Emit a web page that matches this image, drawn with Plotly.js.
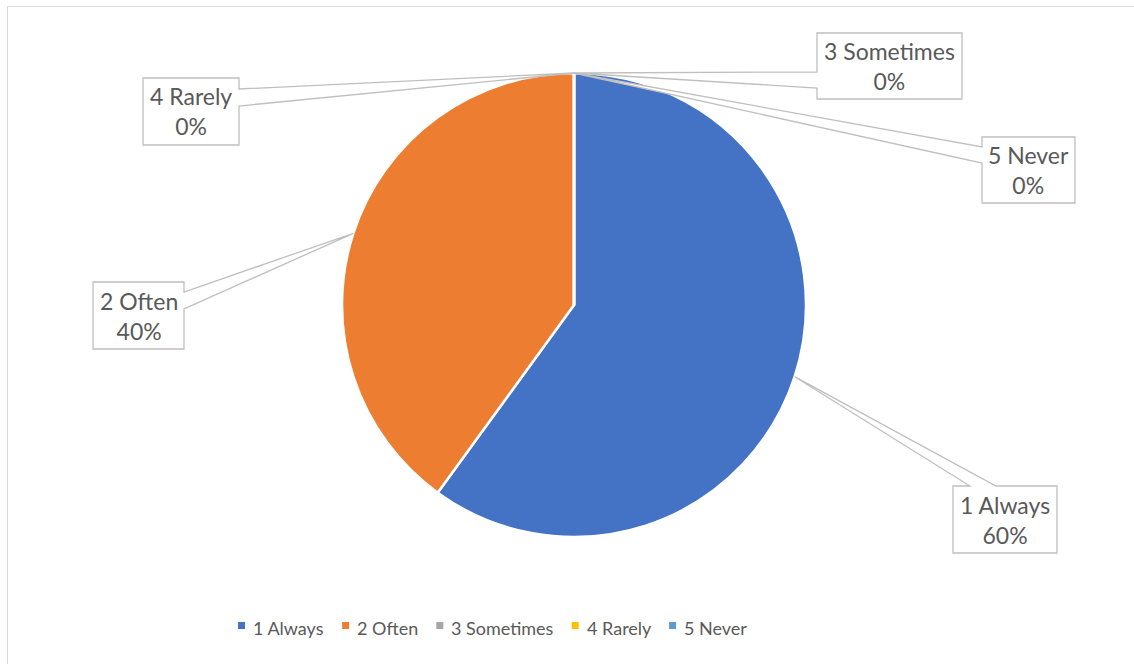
<!DOCTYPE html>
<html>
<head>
<meta charset="utf-8">
<script src="https://cdn.plot.ly/plotly-3.0.1.min.js"></script>
<style>html,body{margin:0;padding:0;background:#fff;}#chart{width:1134px;height:664px;}</style>
</head>
<body>
<div id="chart"></div>
<script>
// ---- data ----
const categories = ["1 Always", "2 Often", "3 Sometimes", "4 Rarely", "5 Never"];
const values = [60, 40, 0, 0, 0];
const colors = ["#4472C4", "#ED7D31", "#A5A5A5", "#FFC000", "#5B9BD5"];

// ---- layout constants (pixels) ----
const W = 1134, H = 664;
const CX = 574, CY = 305, R = 232;
const FONT = "Lato";
const TEXT_COLOR = "#595959";
const LINE_COLOR = "#BFBFBF";
const LABEL_SIZE = 23, LEGEND_SIZE = 18;
// callout boxes: [left, top, right, bottom], side of attachment, two offsets along that side
const callouts = [
  {box: [953, 486, 1057, 553], side: "top",   att: [17, 43]},
  {box: [93, 282, 184, 349],   side: "right", att: [10, 27]},
  {box: [817, 33, 962, 99],    side: "left",  att: [39, 55]},
  {box: [143, 78, 239, 145],   side: "right", att: [11, 28]},
  {box: [982, 137, 1075, 203], side: "left",  att: [10, 26]}
];

const px = x => x / W;
const py = y => 1 - y / H;
const P = (x, y) => px(x).toFixed(5) + "," + py(y).toFixed(5);

const total = values.reduce((a, b) => a + b, 0);
const shapes = [];
const annotations = [];

// chart frame
shapes.push({type: "rect", xref: "paper", yref: "paper", x0: px(7.5), x1: px(W + 20), y0: py(6.5), y1: py(H + 20),
  line: {color: "#D9D9D9", width: 1}, fillcolor: "rgba(0,0,0,0)", layer: "below"});

// callouts: leader point computed from slice mid-angle (clockwise from 12 o'clock)
let cum = 0;
values.forEach((v, i) => {
  const mid = (cum + v / 2) / total;
  cum += v;
  const ang = mid * 2 * Math.PI;
  const lx = CX + R * Math.sin(ang);
  const ly = CY - R * Math.cos(ang);
  const c = callouts[i];
  const [l, t, r, b] = c.box;
  let d;
  if (c.side === "right") {
    d = "M" + P(l, t) + " L" + P(r, t) + " L" + P(r, t + c.att[0]) + " L" + P(lx, ly) + " L" + P(r, t + c.att[1]) +
        " L" + P(r, b) + " L" + P(l, b) + " Z";
  } else if (c.side === "left") {
    d = "M" + P(l, t) + " L" + P(r, t) + " L" + P(r, b) + " L" + P(l, b) + " L" + P(l, t + c.att[1]) +
        " L" + P(lx, ly) + " L" + P(l, t + c.att[0]) + " Z";
  } else {
    d = "M" + P(l, t) + " L" + P(l + c.att[0], t) + " L" + P(lx, ly) + " L" + P(l + c.att[1], t) +
        " L" + P(r, t) + " L" + P(r, b) + " L" + P(l, b) + " Z";
  }
  shapes.push({type: "path", xref: "paper", yref: "paper", path: d,
    line: {color: LINE_COLOR, width: 1.3}, fillcolor: "white", layer: "above"});
  const pct = Math.round(v / total * 100) + "%";
  annotations.push({xref: "paper", yref: "paper", x: px((l + r) / 2), y: py((t + b) / 2),
    xanchor: "center", yanchor: "middle", showarrow: false, align: "center",
    text: categories[i] + "<br>" + pct,
    font: {family: FONT, size: LABEL_SIZE, color: TEXT_COLOR}});
});

// custom legend
const LEG_Y = 628, LEG_CENTER = 491.5, SQ = 7, SQ_GAP = 6, ITEM_GAP = 20;
const ctx = document.createElement("canvas").getContext("2d");
ctx.font = LEGEND_SIZE + "px " + FONT;
const widths = categories.map(c => ctx.measureText(c).width);
const totalW = widths.reduce((a, w) => a + SQ + SQ_GAP + w, 0) + ITEM_GAP * (categories.length - 1);
let xx = LEG_CENTER - totalW / 2;
categories.forEach((c, i) => {
  shapes.push({type: "rect", xref: "paper", yref: "paper", x0: px(xx), x1: px(xx + SQ),
    y0: py(LEG_Y - 6), y1: py(LEG_Y - 6 + SQ), line: {width: 0}, fillcolor: colors[i]});
  annotations.push({xref: "paper", yref: "paper", x: px(xx + SQ + SQ_GAP), y: py(LEG_Y),
    xanchor: "left", yanchor: "middle", showarrow: false, text: c,
    font: {family: FONT, size: LEGEND_SIZE, color: TEXT_COLOR}});
  xx += SQ + SQ_GAP + widths[i] + ITEM_GAP;
});

const trace = {
  type: "pie",
  labels: categories,
  values: values,
  sort: false,
  direction: "clockwise",
  rotation: 0,
  textinfo: "none",
  hoverinfo: "label+percent",
  marker: {colors: colors, line: {color: "white", width: 2.5}},
  domain: {x: [px(CX - R), px(CX + R)], y: [py(CY + R), py(CY - R)]},
  showlegend: false
};

const layout = {
  width: W, height: H,
  margin: {l: 0, r: 0, t: 0, b: 0},
  paper_bgcolor: "white",
  showlegend: false,
  shapes: shapes,
  annotations: annotations
};

Plotly.newPlot("chart", [trace], layout, {displayModeBar: false, staticPlot: true});
</script>
</body>
</html>
